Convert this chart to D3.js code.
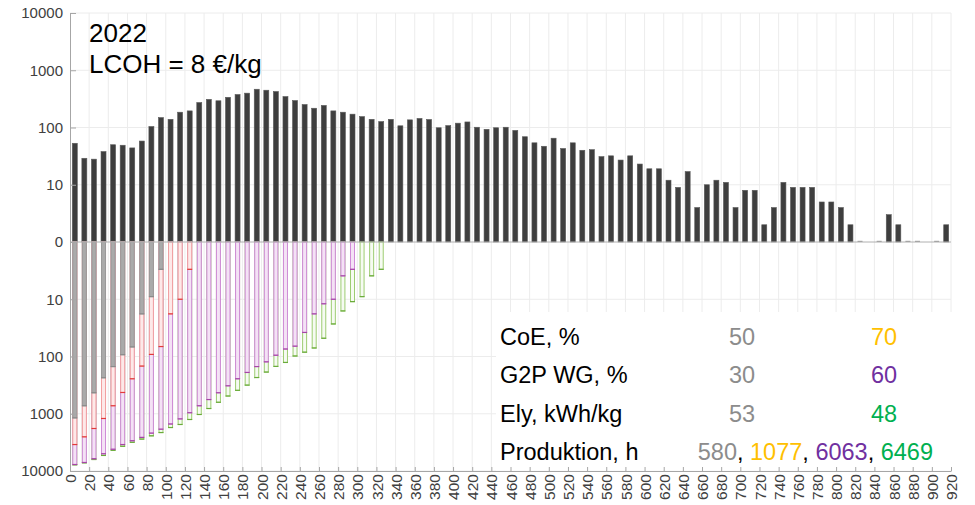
<!DOCTYPE html>
<html>
<head>
<meta charset="utf-8">
<script src="https://cdn.jsdelivr.net/npm/d3@7"></script>
<style>
  body { margin: 0; background: #fff; }
  svg { display: block; }
  text { font-family: "Liberation Sans", Arial, Helvetica, sans-serif; }
</style>
</head>
<body>
<svg id="chart" width="975" height="505"></svg>
<script>
// Price bins (start of each 10-unit bin)
const binStarts = [0,10,20,30,40,50,60,70,80,90,100,110,120,130,140,150,160,170,180,190,
  200,210,220,230,240,250,260,270,280,290,300,310,320,330,340,350,360,370,380,390,
  400,410,420,430,440,450,460,470,480,490,500,510,520,530,540,550,560,570,580,590,
  600,610,620,630,640,650,660,670,680,690,700,710,720,730,740,750,760,770,780,790,
  800,810,820,830,840,850,860,870,880,890,900,910];

// Hours per price bin (upper histogram)
const hoursPerBin = [53,29,28,38,50,49,44,58,104,149,
  139,185,195,273,310,293,337,377,398,466,
  448,425,347,296,252,217,243,195,185,171,
  155,139,127,139,107,136,144,138,99,108,
  119,125,101,93,99,101,89,69,54,47,
  65,43,54,40,41,31,32,27,32,23,
  19,19,12,9,17,4,10,12,11,4,
  8,8,2,4,11,9,9,9,5,5,
  4,2,1,0,1,3,2,1,1,0,
  1,2];

// Scenario curves, drawn downwards from the zero line
const baseCase = [1180,725,430,235,150,93,68,18,9,3];                    // CoE 50, G2P 30, Ely 53
const coe70 = [3450,2530,1810,1210,725,425,245,147,92,67,18,10,3];       // CoE 70
const g2p60 = [7700,7100,6100,5000,4170,3450,2960,2590,2180,1860,
  1510,1230,960,725,565,430,325,245,190,150,
  124,95,74,66,38,18,12,10,3.9,3.0];                                     // G2P WG 60
const ely48 = [7800,7200,6300,5350,4350,3700,3150,2770,2430,2130,
  1740,1540,1260,1030,810,630,490,390,316,233,
  187,149,127,98,84,71,48,27,16,11,
  9,3.9,3.0];                                                            // Ely 48

const yTickValues = [1,10,100,1000,10000];
const yTickLabels = ["0","10","100","1000","10000"];
const xTickValues = [0,20,40,60,80,100,120,140,160,180,200,220,240,260,280,300,320,340,
  360,380,400,420,440,460,480,500,520,540,560,580,600,620,640,660,680,700,720,740,760,
  780,800,820,840,860,880,900,920];

const titleLines = ["2022", "LCOH = 8 €/kg"];
const legendRows = [
  { label: "CoE, %", a: "50", b: "70", bColor: "#ffc000" },
  { label: "G2P WG, %", a: "30", b: "60", bColor: "#7030a0" },
  { label: "Ely, kWh/kg", a: "53", b: "48", bColor: "#00b050" }
];
const productionLabel = "Produktion, h";
const productionHours = [
  { v: "580", c: "#8c8c8c" }, { v: "1077", c: "#ffc000" },
  { v: "6063", c: "#7030a0" }, { v: "6469", c: "#00b050" }
];

const svg = d3.select("#chart");
const plotL = 70, plotR = 951, plotT = 13, zeroY = 242, plotB = 471;

const x = d3.scaleLinear().domain([0, 920]).range([plotL, plotR]);
const yUp = d3.scaleLog().domain([1, 10000]).range([zeroY, plotT]);
const yDown = d3.scaleLog().domain([1, 10000]).range([zeroY, plotB]);
const barW = 5;
const bx = b => x(b + 5) - barW / 2;

// Grid
const grid = svg.append("g").attr("stroke", "#ececec").attr("stroke-width", 1);
grid.selectAll(".gv").data(xTickValues.filter(d => d > 0)).join("line")
  .attr("x1", d => x(d)).attr("x2", d => x(d))
  .attr("y1", plotT).attr("y2", plotB);
grid.selectAll(".gu").data(yTickValues.filter(d => d > 1)).join("line")
  .attr("x1", plotL).attr("x2", plotR)
  .attr("y1", d => yUp(d)).attr("y2", d => yUp(d));
grid.selectAll(".gd").data(yTickValues.filter(d => d > 1)).join("line")
  .attr("x1", plotL).attr("x2", plotR)
  .attr("y1", d => yDown(d)).attr("y2", d => yDown(d));

// Legend panel background
svg.append("rect").attr("x", 496).attr("y", 312).attr("width", 462).attr("height", plotB - 312 - 0.5)
  .attr("fill", "#fff");

// Upper histogram (single-hour bins still leave a hairline on the zero line)
svg.append("g").selectAll("rect")
  .data(binStarts.map((b, i) => ({ b, v: hoursPerBin[i] })).filter(d => d.v >= 1))
  .join("rect")
  .attr("x", d => bx(d.b))
  .attr("y", d => Math.min(yUp(d.v), zeroY - 1.2))
  .attr("width", barW)
  .attr("height", d => Math.max(zeroY - yUp(d.v), 1.2))
  .attr("fill", d => d.v > 1 ? "#3e3e3e" : "#9a9a9a")
  .attr("stroke", d => d.v > 1 ? "#5a5a5a" : "none")
  .attr("stroke-width", 0.6);

// Lower scenario bars, longest first so shorter ones sit on top
const scenarios = [
  { data: ely48, stroke: "#9dcc72", fill: "#f6fbf2", end: "#6aab3a" },
  { data: g2p60, stroke: "#d08ad8", fill: "#f4e2f5", end: "#a645a6" },
  { data: coe70, stroke: "#f2a0a0", fill: "#fde9e9", end: "#e23a3a" },
  { data: baseCase, stroke: "#999999", fill: "#aaaaaa", end: "#8a8a8a" }
];
scenarios.forEach(s => {
  const g = svg.append("g");
  const rows = s.data.map((v, i) => ({ b: binStarts[i], v }));
  g.selectAll("rect").data(rows).join("rect")
    .attr("x", d => bx(d.b) + 0.5)
    .attr("y", zeroY)
    .attr("width", barW - 1)
    .attr("height", d => yDown(d.v) - zeroY)
    .attr("fill", s.fill)
    .attr("stroke", s.stroke)
    .attr("stroke-width", 1);
  g.selectAll("line").data(rows).join("line")
    .attr("x1", d => bx(d.b)).attr("x2", d => bx(d.b) + barW)
    .attr("y1", d => yDown(d.v)).attr("y2", d => yDown(d.v))
    .attr("stroke", s.end).attr("stroke-width", 1.2);
});

// Zero line
svg.append("line").attr("x1", plotL).attr("x2", plotR).attr("y1", zeroY).attr("y2", zeroY)
  .attr("stroke", "#b0b0b0").attr("stroke-width", 1);

// Axes
const axisColor = "#a6a6a6";
const labelColor = "#404040";
const fmt = d => yTickLabels[yTickValues.indexOf(d)];

const gyUp = svg.append("g").attr("transform", `translate(${plotL},0)`)
  .call(d3.axisLeft(yUp).tickValues(yTickValues).tickFormat(fmt).tickSize(-6).tickPadding(7));
const gyDown = svg.append("g").attr("transform", `translate(${plotL},0)`)
  .call(d3.axisLeft(yDown).tickValues(yTickValues.filter(d => d > 1)).tickFormat(fmt).tickSize(-6).tickPadding(7));
[gyUp, gyDown].forEach(g => {
  g.selectAll("path, line").attr("stroke", axisColor);
  g.selectAll("text").attr("fill", labelColor).style("font-size", "15px");
});

const gx = svg.append("g").attr("transform", `translate(0,${plotB})`)
  .call(d3.axisBottom(x).tickValues(xTickValues).tickSize(-4).tickSizeOuter(0));
gx.selectAll("path, line").attr("stroke", axisColor);
gx.selectAll("text")
  .attr("transform", "rotate(-90)")
  .attr("x", -3).attr("y", 0).attr("dy", "0.36em")
  .attr("text-anchor", "end")
  .attr("fill", labelColor)
  .style("font-size", "15.5px");

// Title
svg.append("g").selectAll("text").data(titleLines).join("text")
  .attr("x", 89).attr("y", (d, i) => 42 + i * 31)
  .style("font-size", "26px").attr("fill", "#000")
  .text(d => d);

// Legend
const lg = svg.append("g").style("font-size", "23.5px");
legendRows.forEach((r, i) => {
  const yy = 345 + i * 38.3;
  lg.append("text").attr("x", 500).attr("y", yy).attr("fill", "#000").text(r.label);
  lg.append("text").attr("x", 742).attr("y", yy).attr("text-anchor", "middle").attr("fill", "#8c8c8c").text(r.a);
  lg.append("text").attr("x", 884).attr("y", yy).attr("text-anchor", "middle").attr("fill", r.bColor).text(r.b);
});
const py = 345 + 3 * 38.3;
lg.append("text").attr("x", 500).attr("y", py).attr("fill", "#000").text(productionLabel);
const pt = lg.append("text").attr("x", 933).attr("y", py).attr("text-anchor", "end");
productionHours.forEach((p, i) => {
  pt.append("tspan").attr("fill", p.c).text(p.v);
  if (i < productionHours.length - 1) pt.append("tspan").attr("fill", "#000").text(", ");
});
</script>
</body>
</html>
